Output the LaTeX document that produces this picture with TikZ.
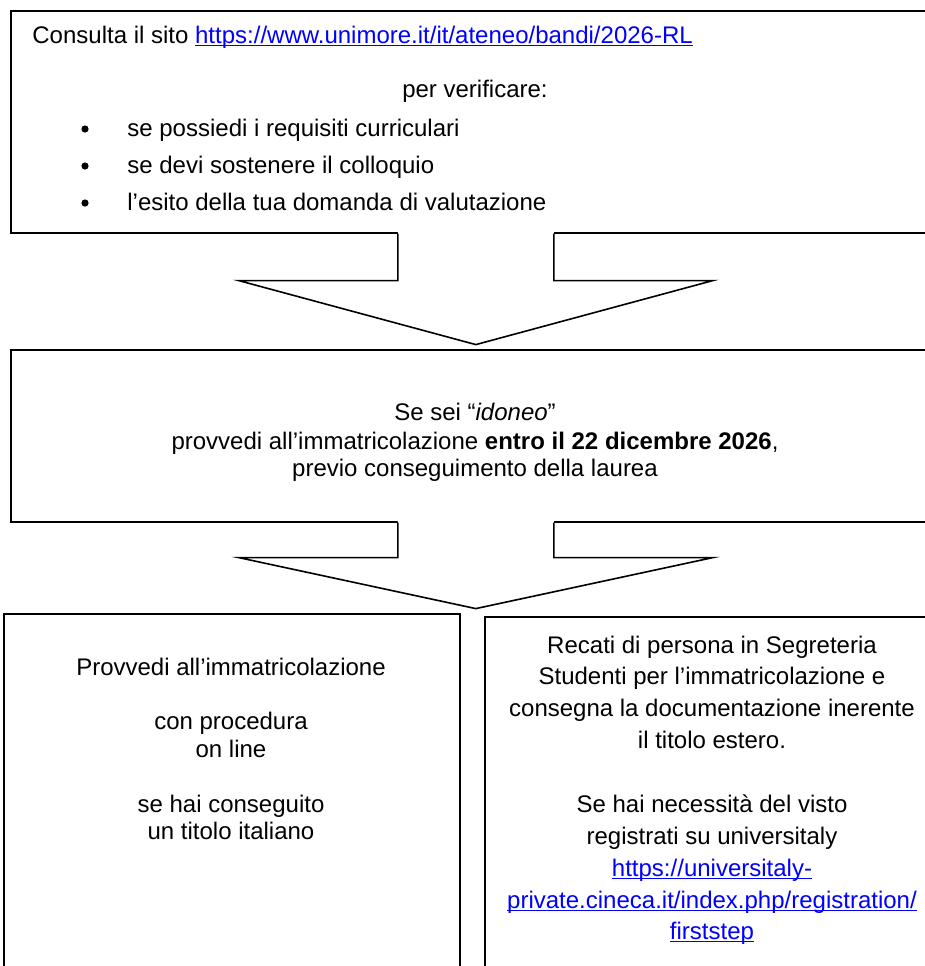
\documentclass[tikz,border=0pt]{standalone}
\usepackage{fontspec}
\setmainfont{Liberation Sans}
\usepackage{xcolor}
\usetikzlibrary{calc}
\definecolor{linkblue}{RGB}{0,0,255}
\newcommand\mylink[1]{\textcolor{linkblue}{\setbox0\hbox{#1}\rlap{\rule[-1.7pt]{\wd0}{0.6pt}}\box0}}
\begin{document}
\begin{tikzpicture}[x=0.5pt,y=-0.5pt,
  box/.style={draw=black, line width=0.8pt, rectangle, inner sep=0pt, anchor=north west},
  arrowline/.style={draw=black, line width=0.8pt, line join=miter},
  txt/.style={font=\fontsize{12pt}{13.8pt}\selectfont, inner sep=0pt, anchor=base},
  txtl/.style={txt, anchor=base west},
  dot/.style={circle, fill=black, inner sep=0pt, minimum size=3.6pt}]
\useasboundingbox (0,0) rectangle (925,966);
\clip (0,0) rectangle (925,966);
\fill[white] (0,0) rectangle (925,966);
% boxes
\node[box, minimum width=465pt, minimum height=111pt] (b1) at (10,10) {};
\node[box, minimum width=465pt, minimum height=86pt] (b2) at (10,349) {};
\node[box, minimum width=228pt, minimum height=200pt] (b3) at (3,613) {};
\node[box, minimum width=228pt, minimum height=200pt] (b4) at (484,616) {};
% arrow 1
\fill[white] ($(b1.south)+(-78,-4)$) -- ($(b1.south)+(-78,47)$) -- ($(b1.south)+(-237,47)$) -- ($(b1.south)+(0,111)$) -- ($(b1.south)+(237,47)$) -- ($(b1.south)+(78,47)$) -- ($(b1.south)+(78,-4)$) -- cycle;
\draw[arrowline] ($(b1.south)+(-78,0)$) -- ($(b1.south)+(-78,47)$) -- ($(b1.south)+(-237,47)$) -- ($(b1.south)+(0,111)$) -- ($(b1.south)+(237,47)$) -- ($(b1.south)+(78,47)$) -- ($(b1.south)+(78,0)$);
% arrow 2
\fill[white] ($(b2.south)+(-78,-4)$) -- ($(b2.south)+(-78,35)$) -- ($(b2.south)+(-237,35)$) -- ($(b2.south)+(0,86)$) -- ($(b2.south)+(237,35)$) -- ($(b2.south)+(78,35)$) -- ($(b2.south)+(78,-4)$) -- cycle;
\draw[arrowline] ($(b2.south)+(-78,0)$) -- ($(b2.south)+(-78,35)$) -- ($(b2.south)+(-237,35)$) -- ($(b2.south)+(0,86)$) -- ($(b2.south)+(237,35)$) -- ($(b2.south)+(78,35)$) -- ($(b2.south)+(78,0)$);
% top box text
\node[txtl] (t1) at (32,43) {Consulta il sito \mylink{https://www.unimore.it/it/ateneo/bandi/2026-RL}};
\node[txt] (t2) at (475,97) {per verificare:};
\node[dot] (d1) at (85,129) {};
\node[txtl] (t3) at (127,136) {se possiedi i requisiti curriculari};
\node[dot] (d2) at (85,166) {};
\node[txtl] (t4) at (127,173) {se devi sostenere il colloquio};
\node[dot] (d3) at (85,203) {};
\node[txtl] (t5) at (127,210) {l’esito della tua domanda di valutazione};
% box 2 text
\node[txt] (m1) at (475,420) {Se sei “\textit{idoneo}”};
\node[txt] (m2) at (475,449) {provvedi all’immatricolazione \textbf{entro il 22 dicembre 2026},};
\node[txt] (m3) at (475,476) {previo conseguimento della laurea};
% left box text
\node[txt] (l1) at (231,675) {Provvedi all’immatricolazione};
\node[txt] (l2) at (231,729) {con procedura};
\node[txt] (l3) at (231,757) {on line};
\node[txt] (l4) at (231,812) {se hai conseguito};
\node[txt] (l5) at (231,839) {un titolo italiano};
% right box text
\node[txt] (r1) at (712,653) {Recati di persona in Segreteria};
\node[txt] (r2) at (712,684) {Studenti per l’immatricolazione e};
\node[txt] (r3) at (712,716) {consegna la documentazione inerente};
\node[txt] (r4) at (712,748) {il titolo estero.};
\node[txt] (r5) at (712,812) {Se hai necessità del visto};
\node[txt] (r6) at (712,844) {registrati su universitaly};
\node[txt] (r7) at (712,876) {\mylink{https://universitaly-}};
\node[txt] (r8) at (712,908) {\mylink{private.cineca.it/index.php/registration/}};
\node[txt] (r9) at (712,939) {\mylink{firststep}};
\end{tikzpicture}
\end{document}
